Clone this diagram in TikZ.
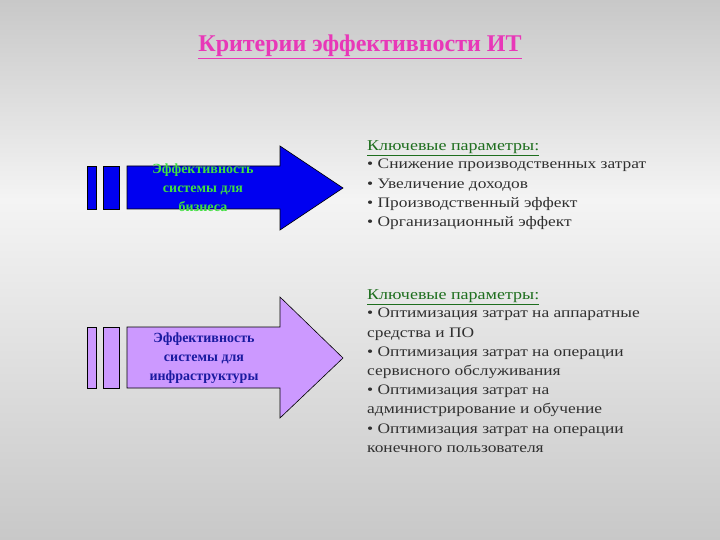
\documentclass[tikz,border=0pt]{standalone}
\usepackage{fontspec}
\setmainfont{Liberation Serif}
\newfontfamily\widefont[FakeStretch=1.2]{Liberation Serif}
\newcommand{\myul}[1]{$\underline{\hbox{#1}}$}
\definecolor{bgtop}{HTML}{C8C8C8}
\definecolor{bgmid}{HTML}{F4F4F4}
\definecolor{titlec}{HTML}{E838B8}
\definecolor{keyc}{HTML}{1E6E1E}
\definecolor{txtc}{HTML}{303030}
\definecolor{blueA}{HTML}{0000F0}
\definecolor{lilac}{HTML}{CC99FF}
\definecolor{greenT}{HTML}{40E040}
\definecolor{navyT}{HTML}{1A1AA0}
\begin{document}
\begin{tikzpicture}[x=1pt,y=-1pt,
  shp/.style={draw=black,line width=0.6pt},
  lst/.style={anchor=north west,align=left,font=\widefont\fontsize{14.5}{19.2}\selectfont,text=txtc,inner sep=0pt},
  hdr/.style={anchor=west,font=\widefont\fontsize{15}{18}\selectfont,text=keyc,inner sep=0pt},
  lab/.style={align=center,font=\bfseries\fontsize{14}{19}\selectfont,inner sep=0pt}]
\useasboundingbox (0,0) rectangle (720,540);
\shade[top color=bgtop,bottom color=bgmid] (0,0) rectangle (720,200);
\shade[top color=bgmid,bottom color=bgtop] (0,200) rectangle (720,540);
% title
\node (title) [text=titlec,font=\bfseries\fontsize{24}{28}\selectfont] at (360,47) {\myul{Критерии эффективности ИТ}};
% top arrow
\path[shp,fill=blueA] (87,166) rectangle (96,209);
\path[shp,fill=blueA] (103,166) rectangle (119,209);
\path[shp,fill=blueA] (127,166) -- (280,166) -- (280,146) -- (343,188) -- (280,230) -- (280,209) -- (127,209) -- cycle;
\node (a1) [lab,text=greenT] at (203,188) {Эффективность\\системы для\\бизнеса};
% bottom arrow
\path[shp,fill=lilac] (87,327) rectangle (96,388);
\path[shp,fill=lilac] (103,327) rectangle (119,388);
\path[shp,fill=lilac] (127,327) -- (280,327) -- (280,297) -- (343,358) -- (280,418) -- (280,388) -- (127,388) -- cycle;
\node (a2) [lab,text=navyT] at (204,358) {Эффективность\\системы для\\инфраструктуры};
% right texts
\node (h1) [hdr] at (367,148) {\myul{Ключевые параметры:}};
\node (l1) [lst] at (367,159) {• Снижение производственных затрат\\• Увеличение доходов\\• Производственный эффект\\• Организационный эффект};
\node (h2) [hdr] at (367,297) {\myul{Ключевые параметры:}};
\node (l2) [lst] at (367,308) {• Оптимизация затрат на аппаратные\\средства и ПО\\• Оптимизация затрат на операции\\сервисного обслуживания\\• Оптимизация затрат на\\администрирование и обучение\\• Оптимизация затрат на операции\\конечного пользователя};
\end{tikzpicture}
\end{document}
